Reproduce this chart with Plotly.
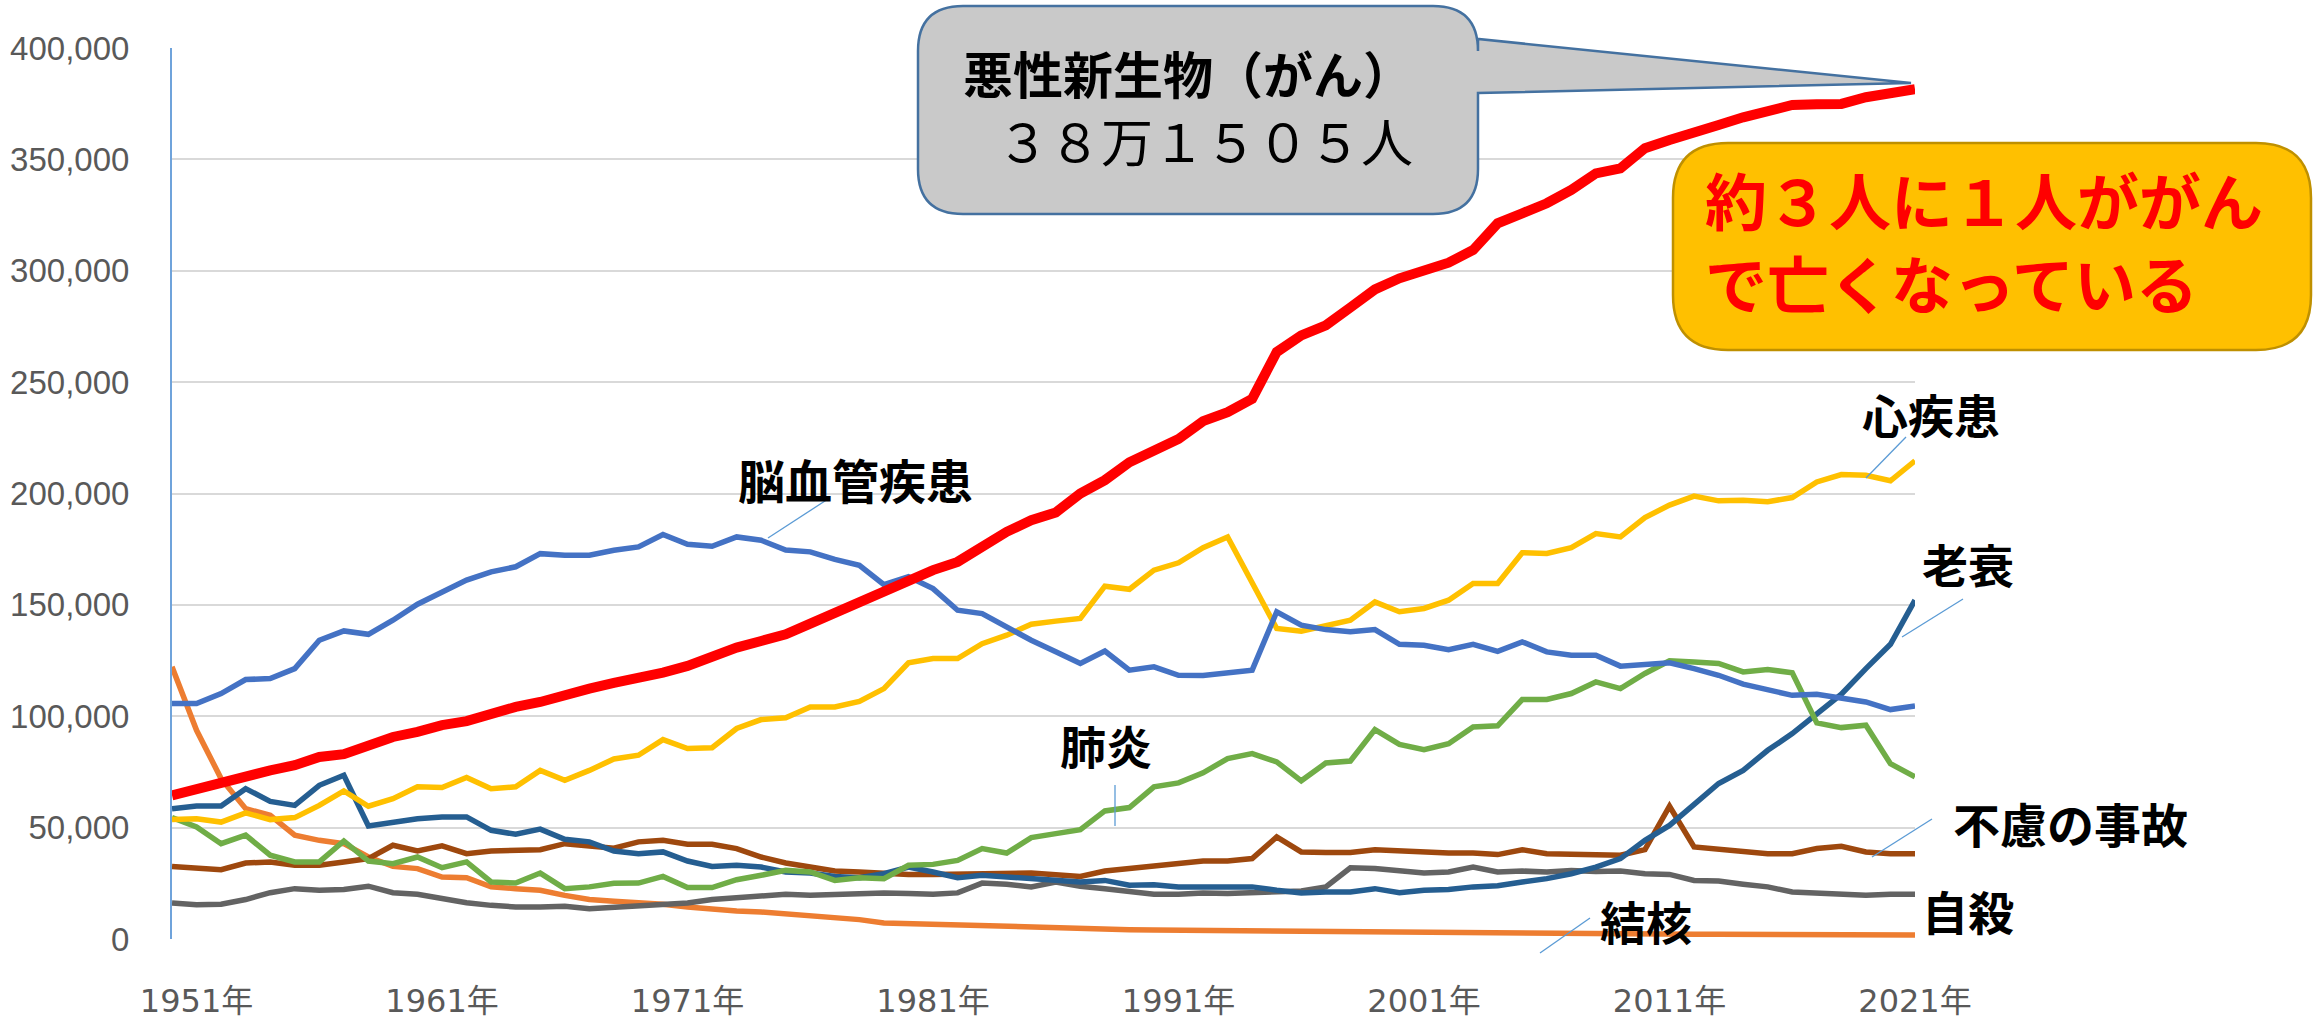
import plotly.graph_objects as go

# ---------------- data (deaths, thousands of persons) ----------------
years = list(range(1950, 2022))
tick_years = [1951, 1961, 1971, 1981, 1991, 2001, 2011, 2021]
tick_labels = [f"{y}年" for y in tick_years]
y_ticks = [0, 50000, 100000, 150000, 200000, 250000, 300000, 350000, 400000]

cancer = [64.5, 67.5, 70.5, 72.5, 75.7, 78.0, 81.7, 83.0, 87.4, 90.7, 93.0, 96.0, 97.8, 101.2, 104.2, 106.4,
          109.7, 112.4, 115.0, 117.1, 119.6, 122.6, 127.1, 130.8, 133.8, 136.8, 141.6, 146.6, 151.1, 156.6,
          161.4, 165.6, 169.3, 176.0, 182.8, 188.0, 191.5, 200.0, 206.0, 214.0, 219.0, 224.5, 232.5, 236.5,
          242.5, 263.5, 271.0, 275.5, 283.5, 291.6, 296.6, 300.3, 303.6, 309.3, 321.3, 325.8, 330.3, 336.3,
          343.7, 346.0, 355.0, 358.7, 361.7, 365.4, 368.9, 371.4, 374.4, 374.7, 374.9, 377.9, 379.7, 381.505]
cerebro = [105.7, 105.7, 110.2, 116.5, 116.9, 121.4, 134.1, 138.3, 136.8, 143.1, 150.3, 155.8, 161.1, 164.8,
           167.1, 173.0, 172.3, 172.3, 174.5, 176.0, 181.6, 177.2, 176.3, 180.5, 179.0, 174.6, 173.8, 170.4,
           167.8, 159.1, 162.6, 157.3, 147.6, 146.1, 140.1, 134.1, 129.0, 123.7, 129.3, 120.7, 122.2, 118.4,
           118.3, 119.2, 120.7, 146.9, 140.9, 138.9, 137.9, 138.9, 132.3, 131.9, 129.9, 132.3, 129.1, 133.4,
           128.9, 127.4, 127.4, 122.5, 123.4, 124.0, 121.4, 118.4, 114.4, 112.0, 109.4, 109.9, 108.4, 106.4,
           103.0, 104.6]
heart = [53.6, 54.0, 52.5, 56.6, 53.6, 54.5, 60.0, 66.5, 59.6, 63.0, 68.3, 68.0, 72.5, 67.5, 68.3, 75.7, 71.3,
         75.7, 80.8, 82.5, 89.5, 85.5, 85.9, 94.5, 98.5, 99.3, 104.2, 104.2, 106.7, 112.4, 124.0, 125.9, 125.9,
         132.6, 136.4, 141.3, 142.7, 143.9, 158.4, 157.0, 165.6, 168.9, 175.7, 180.5, 159.9, 139.4, 138.2,
         140.9, 143.1, 151.3, 146.9, 148.4, 152.1, 159.6, 159.6, 173.4, 173.1, 175.7, 182.0, 180.5, 189.2,
         194.8, 198.8, 196.7, 197.0, 196.3, 198.2, 205.2, 208.5, 208.2, 205.7, 214.7]
pneumonia = [54.5, 50.3, 42.8, 46.6, 37.6, 34.6, 34.6, 44.0, 35.0, 33.8, 36.8, 32.0, 34.6, 25.6, 25.1, 29.6,
             22.6, 23.4, 25.0, 25.1, 28.1, 23.1, 23.1, 26.6, 28.6, 30.8, 30.1, 26.3, 27.5, 27.1, 33.1, 33.5,
             35.3, 40.6, 38.6, 45.5, 47.3, 49.1, 57.5, 59.0, 68.3, 70.1, 74.6, 81.0, 83.2, 79.5, 71.0, 79.0,
             79.9, 94.0, 87.4, 85.0, 87.7, 95.2, 95.7, 107.5, 107.5, 110.2, 115.4, 112.4, 119.2, 124.9, 124.4,
             123.7, 119.9, 121.0, 119.5, 97.0, 94.9, 96.0, 78.7, 72.8]
senility = [58.5, 59.7, 59.7, 67.5, 61.8, 60.0, 69.0, 73.5, 50.7, 52.5, 54.0, 54.8, 54.8, 48.8, 47.0, 49.3,
            44.8, 43.6, 39.5, 38.3, 39.1, 35.0, 32.6, 33.1, 32.3, 30.1, 29.6, 28.1, 27.5, 29.3, 32.3, 30.1,
            27.5, 28.6, 27.8, 27.1, 26.6, 25.6, 26.3, 24.1, 24.4, 23.4, 23.4, 23.4, 23.4, 21.9, 20.7, 21.1,
            21.1, 22.6, 20.8, 21.9, 22.2, 23.4, 23.9, 25.6, 27.1, 29.3, 32.3, 36.1, 44.3, 51.0, 60.8, 69.8,
            75.7, 84.7, 92.2, 100.9, 109.9, 121.4, 132.3, 152.1]
accident = [32.6, 31.9, 31.1, 34.1, 34.6, 33.1, 33.1, 34.6, 36.1, 42.1, 39.5, 41.8, 38.3, 39.5, 40.1, 40.1,
            42.8, 42.1, 40.8, 43.6, 44.3, 42.5, 42.5, 40.6, 36.8, 34.1, 32.0, 30.5, 30.1, 29.3, 29.0, 29.0,
            29.3, 29.6, 29.6, 29.6, 28.8, 28.1, 30.5, 31.6, 32.3, 33.5, 35.0, 35.0, 36.1, 45.8, 39.1, 38.8,
            38.8, 40.1, 39.5, 39.4, 38.6, 38.6, 37.9, 40.1, 38.3, 38.0, 38.0, 37.6, 40.1, 59.6, 41.3, 40.1,
            39.5, 38.3, 38.3, 40.6, 41.6, 39.1, 38.3, 38.3]
suicide = [16.2, 15.4, 15.6, 17.7, 20.8, 22.6, 21.9, 22.2, 23.7, 20.8, 20.1, 18.1, 16.3, 15.1, 14.4, 14.4,
           14.7, 13.6, 14.2, 14.7, 15.6, 16.2, 17.7, 18.6, 18.9, 20.1, 19.6, 20.1, 20.1, 20.7, 20.4, 20.1,
           20.7, 25.1, 24.6, 23.4, 25.6, 23.7, 22.6, 21.1, 20.1, 20.1, 20.7, 20.4, 20.7, 21.1, 21.6, 23.4,
           32.0, 31.6, 30.5, 29.6, 30.1, 32.3, 30.1, 30.5, 30.1, 30.8, 30.3, 30.5, 29.3, 29.0, 26.3, 26.0,
           24.6, 23.4, 21.1, 20.7, 20.4, 19.6, 20.1, 20.1]
tuberculosis = [122.2, 93.7, 72.0, 58.5, 55.5, 46.6, 44.3, 42.8, 36.8, 32.6, 31.6, 27.8, 27.5, 23.4, 22.6,
                21.9, 19.6, 17.7, 16.9, 16.5, 15.6, 14.4, 13.2, 12.6, 12.1, 11.4, 10.6, 9.6, 8.7, 7.2, 6.9,
                6.1, 5.7, 5.7, 5.4, 5.1, 4.6, 4.5, 4.4, 4.2, 4.0, 3.9, 3.7, 3.5, 3.4, 3.3, 3.2, 3.1, 3.0,
                2.9, 2.7, 2.6, 2.5, 2.4, 2.3, 2.3, 2.3, 2.2, 2.2, 2.2, 2.1, 2.1, 2.1, 2.1, 2.1, 2.0, 2.0,
                2.0, 2.0, 2.1, 1.9, 1.8]

series = [
    ("結核", tuberculosis, "#ED7D31", 5.5),
    ("自殺", suicide, "#636363", 5.5),
    ("不慮の事故", accident, "#9E480E", 5.5),
    ("老衰", senility, "#255E91", 5.5),
    ("肺炎", pneumonia, "#70AD47", 5.5),
    ("心疾患", heart, "#FFC000", 5.5),
    ("脳血管疾患", cerebro, "#4472C4", 5.5),
    ("悪性新生物", cancer, "#FF0000", 10),
]

# ---------------- layout geometry (pixels) ----------------
W, H = 2314, 1024
PL, PR, PT, PB = 172, 1915, 48, 939


def fx(px):
    return (px - PL) / (PR - PL)


def fy(py):
    return (PB - py) / (PB - PT)


def P(px, py):
    return f"{fx(px):.5f},{fy(py):.5f}"


fig = go.Figure()
for name, vals, color, width in series:
    fig.add_trace(go.Scatter(
        x=years, y=[v * 1000 for v in vals], name=name, mode="lines",
        line=dict(color=color, width=width), hoverinfo="skip"))

shapes = []

# grey callout with pointer to the cancer line
x0, x1, y0, y1, r = 918, 1478, 6, 214, 45
grey_path = (f"M{P(x0 + r, y0)} L{P(x1 - r, y0)} Q{P(x1, y0)} {P(x1, y0 + r)} "
             f"L{P(x1, 39)} L{P(1911, 83)} L{P(x1, 93)} "
             f"L{P(x1, y1 - r)} Q{P(x1, y1)} {P(x1 - r, y1)} L{P(x0 + r, y1)} "
             f"Q{P(x0, y1)} {P(x0, y1 - r)} L{P(x0, y0 + r)} Q{P(x0, y0)} {P(x0 + r, y0)} Z")
shapes.append(dict(type="path", xref="paper", yref="paper", path=grey_path,
                   fillcolor="#C9C9C9", line=dict(color="#4471A0", width=2.5), layer="above"))

# orange rounded box
x0, x1, y0, y1, r = 1673, 2311, 143, 350, 55
orange_path = (f"M{P(x0 + r, y0)} L{P(x1 - r, y0)} Q{P(x1, y0)} {P(x1, y0 + r)} "
               f"L{P(x1, y1 - r)} Q{P(x1, y1)} {P(x1 - r, y1)} L{P(x0 + r, y1)} "
               f"Q{P(x0, y1)} {P(x0, y1 - r)} L{P(x0, y0 + r)} Q{P(x0, y0)} {P(x0 + r, y0)} Z")
shapes.append(dict(type="path", xref="paper", yref="paper", path=orange_path,
                   fillcolor="#FFC000", line=dict(color="#BF9000", width=2.5), layer="above"))

# leader lines
leaders = [
    ((828, 499), (768, 538)),    # 脳血管疾患
    ((1115, 785), (1115, 826)),  # 肺炎
    ((1906, 437), (1866, 478)),  # 心疾患
    ((1963, 599), (1902, 637)),  # 老衰
    ((1932, 819), (1872, 857)),  # 不慮の事故
    ((1590, 918), (1540, 953)),  # 結核
]
for (ax_, ay_), (bx_, by_) in leaders:
    shapes.append(dict(type="line", xref="paper", yref="paper",
                       x0=fx(ax_), y0=fy(ay_), x1=fx(bx_), y1=fy(by_),
                       line=dict(color="#5B9BD5", width=1.3), layer="above"))

CJK = "Noto Sans CJK JP"
annotations = []


def label(text, cx, cy, size=46, color="black", weight="bold", xanchor="center", align="center"):
    annotations.append(dict(text=text, xref="paper", yref="paper", x=fx(cx), y=fy(cy),
                            xanchor=xanchor, yanchor="middle", showarrow=False, align=align,
                            borderpad=0,
                            font=dict(family=CJK, size=size, color=color, weight=weight)))


label("脳血管疾患", 855, 478, size=47)
label("肺炎", 1106, 744)
label("心疾患", 1931, 413)
label("老衰", 1968, 563)
label("不慮の事故", 2070, 822, size=47)
label("自殺", 1968, 910)
label("結核", 1646, 920)

label("悪性新生物（がん）", 962, 72, size=50, xanchor="left")
label("３８万１５０５人", 996, 140, size=52, weight="normal", xanchor="left")

label("約３人に１人ががん", 1704, 199, size=62, color="#FF0000", xanchor="left")
label("で亡くなっている", 1704, 282, size=62, color="#FF0000", xanchor="left")

ytick_font = dict(family="Liberation Sans, " + CJK, size=33, color="#595959")
xtick_font = dict(family="DejaVu Sans, " + CJK, size=32, color="#595959")

fig.update_layout(
    width=W, height=H,
    margin=dict(l=PL, r=W - PR, t=PT, b=H - PB, autoexpand=False),
    paper_bgcolor="white", plot_bgcolor="white",
    showlegend=False, hovermode=False,
    shapes=shapes, annotations=annotations,
    xaxis=dict(range=[1950, 2021], tickmode="array", tickvals=tick_years, ticktext=tick_labels,
               showgrid=False, zeroline=False, showline=False, ticks="", automargin=False,
               tickfont=xtick_font, ticklabelstandoff=40),
    yaxis=dict(range=[0, 400000], tickmode="array", tickvals=y_ticks,
               ticktext=[f"{v:,}" for v in y_ticks], automargin=False,
               showgrid=True, gridcolor="#D9D9D9", gridwidth=2, zeroline=False,
               showline=True, linecolor="#6FA3DB", linewidth=2, ticks="",
               tickfont=ytick_font, ticklabelstandoff=34),
)

fig.write_html("out.html")
